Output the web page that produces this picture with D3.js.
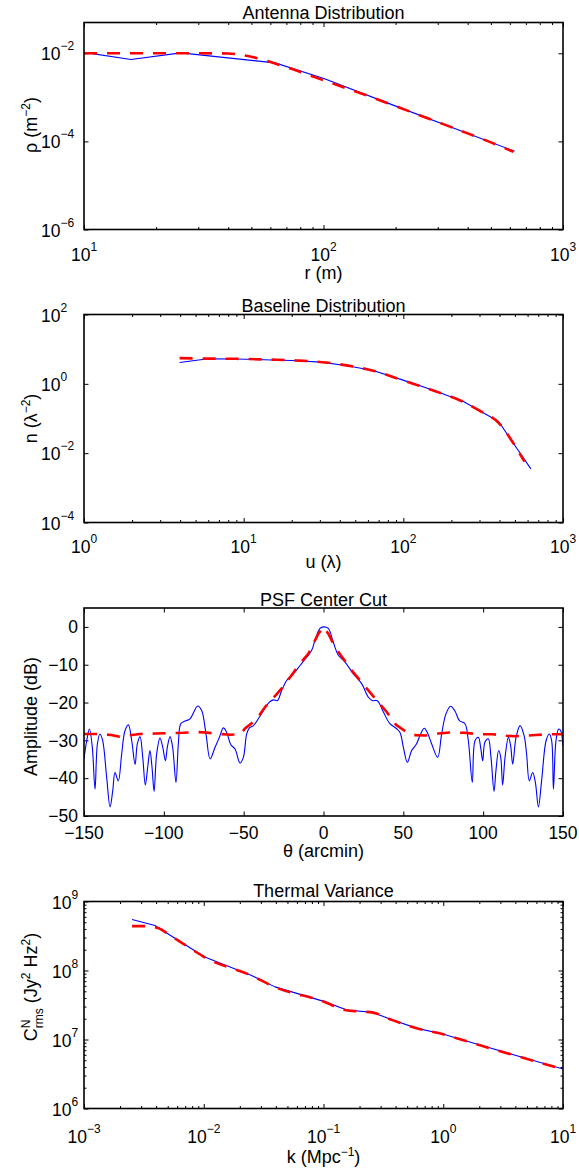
<!DOCTYPE html>
<html><head><meta charset="utf-8">
<script src="https://cdn.jsdelivr.net/npm/d3@7"></script>
<style>
body{margin:0;background:#fff}
text{font-family:"Liberation Sans",Arial,Helvetica,sans-serif;fill:#000}
</style>
</head><body>
<svg id="c" width="579" height="1174"></svg>
<script>
// ---------- DATA ----------
// Panel 1: Antenna Distribution
const antR_blue   = [10, 15.7, 25.4, 62.8, 101, 199, 628];
const antRho_blue = [0.0105, 0.0072, 0.0102, 0.00606, 0.00264, 0.00064, 0.0000597];
const antR_red    = [10, 15, 20, 25, 30, 40, 47, 56, 65, 74, 93, 121, 155, 200, 300, 400, 500, 621];
const antRho_red  = [0.0100, 0.0100, 0.0100, 0.0100, 0.0100, 0.0099, 0.0089, 0.0071, 0.0055, 0.0044, 0.00280, 0.00170, 0.00106, 0.00063, 0.000275, 0.000152, 0.000095, 0.000058];

// Panel 2: Baseline Distribution
const baseU_blue = [3.97, 6.0, 9, 13.3, 20, 30.6, 44.5, 64.6, 98.5, 151, 238, 395, 629];
const baseN_blue = [4.12, 5.3, 5.2, 4.95, 4.71, 4.23, 3.31, 2.42, 1.30, 0.671, 0.309, 0.0817, 0.00352];
const baseU_red  = [3.97, 6, 9, 14.5, 21.5, 33, 46, 64.6, 98.5, 151, 238, 300, 395, 480, 574];
const baseN_red  = [5.5, 5.35, 5.27, 5.0, 4.71, 4.12, 3.3, 2.4, 1.28, 0.66, 0.30, 0.168, 0.075, 0.022, 0.0057];

// Panel 3: PSF Center Cut
const psfTheta_blue = [-150,-148.3,-146.6,-144.8,-143.1,-141.6,-140.0,-138.3,-135.8,-133.7,-132.0,-130.6,-128.5,-126.4,-124.3,-122.2,-120.1,-118.0,-116.6,-114.9,-113.2,-111.6,-110.1,-108.7,-107.4,-106.1,-104.5,-102.4,-100.7,-99.0,-97.8,-96.1,-94.5,-92.4,-90.9,-89.4,-86.7,-83.6,-78.8,-76.3,-73.6,-71.0,-67.9,-65.2,-62.7,-60.6,-58.1,-55.4,-52.3,-50.2,-48.1,-46.4,-43.9,-40.2,-37.2,-33.9,-31.4,-28.9,-26.2,-23.0,-18.9,-14.7,-10.5,-7.4,-5.3,-2.2,0,
  3.0,6.1,9.3,13.5,18.7,23.9,28.1,30.8,33.7,37.5,41.6,45.4,47.9,50.0,52.5,55.2,58.3,60.8,63.1,65.0,67.7,71.5,74.0,76.7,79.6,82.4,85.1,88.6,90.7,93.2,94.9,97.0,98.4,99.7,101.1,103.2,104.9,106.8,108.0,109.7,111.0,112.2,113.7,115.8,117.2,118.5,120.6,123.1,125.6,127.2,128.9,131.0,132.7,134.6,136.6,139.4,141.4,142.9,144.0,145.6,147.3,148.5,150];
const psfDb_blue = [-34.9,-30.1,-27.0,-31.8,-42.9,-30.9,-28.3,-30.1,-39.8,-47.6,-43.3,-38.5,-40.7,-33.6,-27.4,-25.9,-30.1,-36.4,-30.9,-29.0,-34.5,-41.8,-37.1,-32.7,-37.1,-43.5,-33.6,-29.4,-31.8,-35.4,-31.8,-29.0,-31.8,-41.1,-30.9,-25.6,-24.9,-24.3,-20.9,-22.1,-28.3,-34.9,-31.8,-29.2,-26.7,-27.9,-31.1,-32.3,-36.0,-34.5,-28.3,-26.7,-26.1,-23.9,-21.8,-19.9,-19.3,-19.5,-16.8,-14.1,-12.4,-10.2,-8.0,-6.2,-3.5,-0.4,0,
  -0.4,-4.0,-7.5,-9.3,-12.4,-15.0,-18.6,-19.5,-19.5,-22.5,-25.6,-26.8,-27.9,-31.8,-35.8,-32.7,-30.9,-28.3,-26.8,-27.9,-30.9,-34.5,-28.3,-23.0,-21.0,-22.3,-24.8,-25.6,-30.1,-41.1,-30.1,-29.2,-31.8,-35.4,-30.5,-29.6,-34.5,-43.5,-38.0,-32.7,-34.5,-41.8,-34.5,-29.2,-31.4,-36.3,-29.2,-26.1,-28.7,-33.6,-40.7,-38.5,-41.1,-47.6,-40.7,-30.1,-28.3,-30.1,-42.9,-30.1,-27.0,-27.4,-31.5];
const psfTheta_red = [-150,-140,-133,-128,-122,-115,-105,-95,-88,-80,-74,-66,-58,-52,-49,-45,-41.8,-36.6,-31.4,-25.5,-20.9,-14.7,-9.5,-3.2,0,3,7.2,12.4,17.6,22.8,28.1,34.3,39.6,45.4,51.7,56,64,72,80,88,98,106,115,120,126,133,140,150];
const psfDb_red    = [-28.3,-28.3,-28.6,-29.0,-28.7,-28.3,-28.2,-28.1,-28.0,-27.8,-27.9,-28.3,-28.5,-28.4,-26.8,-25.5,-24.3,-21.2,-18.8,-15.9,-13.3,-9.7,-7.1,-1.8,0,-1.8,-5.3,-8.4,-11.5,-14.1,-16.8,-19.9,-22.5,-25.9,-27.7,-28.6,-28.7,-28.2,-27.9,-28.0,-28.4,-28.4,-28.8,-28.9,-28.8,-28.6,-28.4,-28.4];

// Panel 4: Thermal Variance
const thK_blue = [0.00252, 0.00391, 0.00643, 0.0102, 0.0248, 0.0393, 0.0989, 0.157, 0.258, 0.368, 0.605, 0.992, 2.02, 4.12, 10];
const thC_blue = [5.5e8, 4.5e8, 2.59e8, 1.57e8, 8.53e7, 5.79e7, 3.6e7, 2.67e7, 2.47e7, 1.95e7, 1.45e7, 1.2e7, 8.32e6, 5.83e6, 3.74e6];
const thK_red  = [0.00252, 0.0033, 0.0042, 0.0052, 0.0066, 0.0082, 0.0102, 0.0248, 0.0393, 0.0989, 0.155, 0.20, 0.26, 0.37, 0.6, 1.0, 2.0, 4.0, 10];
const thC_red  = [4.4e8, 4.4e8, 4.1e8, 3.25e8, 2.5e8, 1.96e8, 1.55e8, 8.5e7, 5.75e7, 3.58e7, 2.65e7, 2.55e7, 2.45e7, 1.93e7, 1.45e7, 1.19e7, 8.3e6, 5.85e6, 3.72e6];

// Tick values
const p1xMajor = [10, 100, 1000];
const p1yMajor = [1e-6, 1e-4, 1e-2];
const p2xMajor = [1, 10, 100, 1000];
const p2yMajor = [1e-4, 1e-2, 1, 100];
const p3xMajor = [-150, -100, -50, 0, 50, 100, 150];
const p3yMajor = [-50, -40, -30, -20, -10, 0];
const p4xMajor = [1e-3, 1e-2, 1e-1, 1, 10];
const p4yMajor = [1e6, 1e7, 1e8, 1e9];
const minorMult = [2, 3, 4, 5, 6, 7, 8, 9];

// ---------- DRAW ----------
const svg = d3.select("#c");
const L = 84, R = 563;
const defs = svg.append("defs");

function minorsFor(majors) {
  const out = [];
  for (let i = 0; i < majors.length - 1; i++) minorMult.forEach(m => out.push(majors[i] * m));
  return out;
}

function rich(sel, parts, base, sup, raise) {
  parts.forEach((p, i) => {
    const t = sel.append("tspan").text(p.t);
    if (p.sup) t.attr("font-size", sup).attr("dy", -raise);
    else {
      t.attr("font-size", base);
      if (i > 0 && parts[i - 1].sup) t.attr("dy", raise);
    }
  });
}

function logLabel(sel, v) {
  const e = Math.round(Math.log10(v));
  sel.append("tspan").text("10");
  sel.append("tspan").attr("font-size", 12).attr("dy", -10).text(e < 0 ? "\u2212" + (-e) : String(e));
}
function fmtLin(v) { return v < 0 ? "\u2212" + (-v) : String(v); }

function drawPanel(p) {
  const g = svg.append("g");
  const x = p.x.range([L, R]);
  const y = p.y.range([p.bottom, p.top]);
  const cid = "clip" + p.id;
  defs.append("clipPath").attr("id", cid).append("rect")
    .attr("x", L).attr("y", p.top).attr("width", R - L).attr("height", p.bottom - p.top);

  const axisDefs = [
    [() => d3.axisBottom(x), `translate(0,${p.bottom})`, "x"],
    [() => d3.axisTop(x), `translate(0,${p.top})`, "x"],
    [() => d3.axisLeft(y), `translate(${L},0)`, "y"],
    [() => d3.axisRight(y), `translate(${R},0)`, "y"]
  ];
  axisDefs.forEach(([mk, tr, dim]) => {
    const maj = dim === "x" ? p.xMajor : p.yMajor;
    const mn = dim === "x" ? p.xMinor : p.yMinor;
    const ag = g.append("g").attr("transform", tr)
      .call(mk().tickValues(maj).tickSize(-4.5).tickFormat(() => ""));
    ag.select(".domain").remove();
    if (mn && mn.length) {
      const mg = g.append("g").attr("transform", tr)
        .call(mk().tickValues(mn).tickSize(-2.5).tickFormat(() => ""));
      mg.select(".domain").remove();
    }
  });
  g.selectAll(".tick line").attr("stroke", "#000").attr("stroke-width", 1);

  const line = d3.line().x(d => x(d[0])).y(d => y(d[1])).curve(p.curve || d3.curveLinear);
  g.append("path").datum(d3.zip(p.bx, p.by))
    .attr("clip-path", `url(#${cid})`)
    .attr("fill", "none").attr("stroke", "#0000ff").attr("stroke-width", 1.1)
    .attr("stroke-linejoin", "round").attr("d", line);
  const lineR = d3.line().x(d => x(d[0])).y(d => y(d[1])).curve(p.curveRed || d3.curveMonotoneX);
  g.append("path").datum(d3.zip(p.rx, p.ry))
    .attr("clip-path", `url(#${cid})`)
    .attr("fill", "none").attr("stroke", "#ff0000").attr("stroke-width", 2.6)
    .attr("stroke-dasharray", "13,10").attr("d", lineR);

  g.append("rect").attr("x", L).attr("y", p.top).attr("width", R - L).attr("height", p.bottom - p.top)
    .attr("fill", "none").attr("stroke", "#000").attr("stroke-width", 1.6);

  // tick labels
  p.xMajor.forEach(v => {
    const t = g.append("text").attr("x", x(v)).attr("y", p.xTickY)
      .attr("text-anchor", "middle").attr("font-size", 17.5);
    if (p.log) logLabel(t, v); else t.text(fmtLin(v));
  });
  p.yMajor.forEach(v => {
    if (p.log) {
      const t = g.append("text").attr("x", p.yTickX).attr("y", y(v) + 7)
        .attr("text-anchor", "start").attr("font-size", 17.5);
      logLabel(t, v);
    } else {
      g.append("text").attr("x", p.yTickX).attr("y", y(v) + 6.3)
        .attr("text-anchor", "end").attr("font-size", 17.5).text(fmtLin(v));
    }
  });

  // title
  g.append("text").attr("x", (L + R) / 2).attr("y", p.titleY)
    .attr("text-anchor", "middle").attr("font-size", 18).text(p.title);
  // x label
  const xl = g.append("text").attr("x", (L + R) / 2).attr("y", p.xLabelY)
    .attr("text-anchor", "middle");
  rich(xl, p.xLabel, 18, 12, 7);
  // y label
  const yl = g.append("text").attr("transform", `translate(37,${p.yLabelY}) rotate(-90)`)
    .attr("text-anchor", "middle");
  if (p.yLabelFn) p.yLabelFn(yl); else rich(yl, p.yLabel, 18, 12, 7);
}

drawPanel({
  id: 1, top: 22.5, bottom: 229.5, log: true,
  x: d3.scaleLog().domain([10, 1000]), y: d3.scaleLog().domain([1e-6, 0.05]),
  xMajor: p1xMajor, xMinor: minorsFor(p1xMajor), yMajor: p1yMajor, yMinor: [],
  bx: antR_blue, by: antRho_blue, rx: antR_red, ry: antRho_red,
  title: "Antenna Distribution", titleY: 19, xTickY: 261, yTickX: 41, xLabelY: 279, yLabelY: 125,
  xLabel: [{t: "r (m)"}], yLabel: [{t: "\u03c1 (m"}, {t: "\u22122", sup: true}, {t: ")"}]
});

drawPanel({
  id: 2, top: 314.5, bottom: 522.5, log: true,
  x: d3.scaleLog().domain([1, 1000]), y: d3.scaleLog().domain([1e-4, 100]),
  xMajor: p2xMajor, xMinor: minorsFor(p2xMajor), yMajor: p2yMajor, yMinor: [],
  bx: baseU_blue, by: baseN_blue, rx: baseU_red, ry: baseN_red,
  title: "Baseline Distribution", titleY: 311.5, xTickY: 553, yTickX: 41, xLabelY: 568, yLabelY: 418.5,
  xLabel: [{t: "u (\u03bb)"}], yLabel: [{t: "n (\u03bb"}, {t: "\u22122", sup: true}, {t: ")"}]
});

drawPanel({
  id: 3, top: 608, bottom: 816, log: false,
  x: d3.scaleLinear().domain([-150, 150]), y: d3.scaleLinear().domain([-50, 5]),
  xMajor: p3xMajor, xMinor: [], yMajor: p3yMajor, yMinor: [],
  bx: psfTheta_blue, by: psfDb_blue, rx: psfTheta_red, ry: psfDb_red,
  curve: d3.curveCatmullRom.alpha(0.5), curveRed: d3.curveLinear,
  title: "PSF Center Cut", titleY: 605.5, xTickY: 839, yTickX: 78, xLabelY: 857, yLabelY: 716.5,
  xLabel: [{t: "\u03b8 (arcmin)"}], yLabel: [{t: "Amplitude (dB)"}]
});

drawPanel({
  id: 4, top: 901.5, bottom: 1108.5, log: true,
  x: d3.scaleLog().domain([1e-3, 10]), y: d3.scaleLog().domain([1e6, 1e9]),
  xMajor: p4xMajor, xMinor: minorsFor(p4xMajor), yMajor: p4yMajor, yMinor: minorsFor(p4yMajor),
  bx: thK_blue, by: thC_blue, rx: thK_red, ry: thC_red,
  title: "Thermal Variance", titleY: 896.5, xTickY: 1143, yTickX: 52, xLabelY: 1163, yLabelY: 987,
  xLabel: [{t: "k (Mpc"}, {t: "\u22121", sup: true}, {t: ")"}],
  yLabelFn: (t) => {
    t.append("tspan").attr("font-size", 18).text("C");
    t.append("tspan").attr("font-size", 12).attr("dy", -7.5).text("N");
    t.append("tspan").attr("font-size", 12).attr("dx", -8.7).attr("dy", 13).text("rms");
    t.append("tspan").attr("font-size", 18).attr("dy", -5.5).text(" (Jy");
    t.append("tspan").attr("font-size", 12).attr("dy", -7.5).text("2");
    t.append("tspan").attr("font-size", 18).attr("dy", 7.5).text(" Hz");
    t.append("tspan").attr("font-size", 12).attr("dy", -7.5).text("2");
    t.append("tspan").attr("font-size", 18).attr("dy", 7.5).text(")");
  }
});
</script>
</body></html>
